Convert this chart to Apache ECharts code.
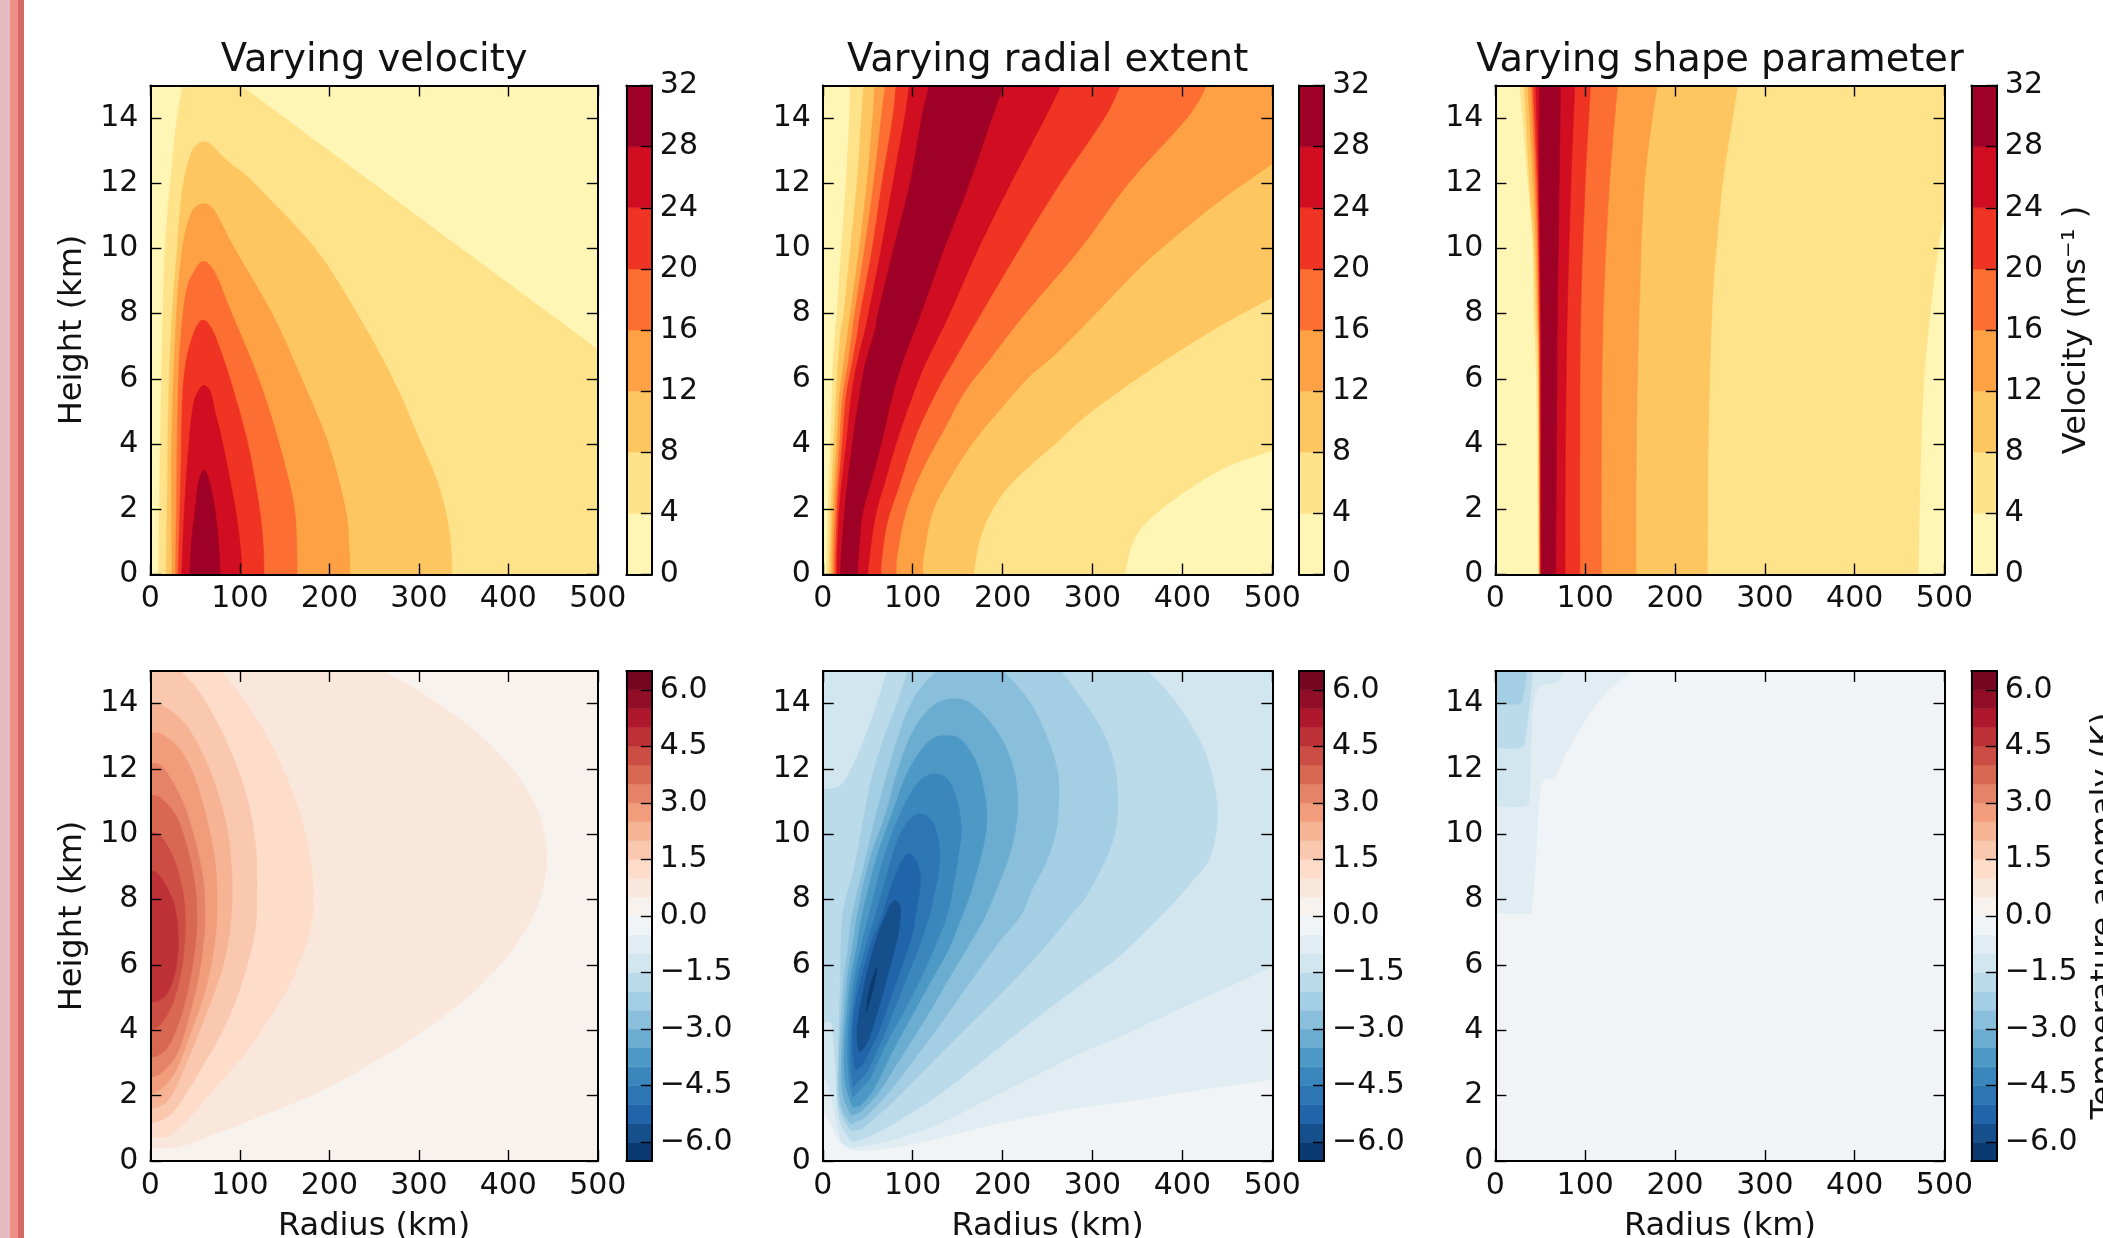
<!DOCTYPE html>
<html><head><meta charset="utf-8">
<style>html,body{margin:0;padding:0;background:#fff;overflow:hidden}#c{width:2103px;height:1238px;filter:blur(0.7px)}</style>
<script src="https://cdn.jsdelivr.net/npm/echarts@6/dist/echarts.min.js"></script>
</head><body><div id="c"></div>
<script>
// ---- tick labels and titles
const radiusTicks=[0,100,200,300,400,500];
const heightTicks=[0,2,4,6,8,10,12,14];
const velocityTicks=[0,4,8,12,16,20,24,28,32];
const temperatureTicks=[-6,-4.5,-3,-1.5,0,1.5,3,4.5,6];
const velocityLevels=[0,4,8,12,16,20,24,28,32];
const temperatureLevels=[-6.5,-6,-5.5,-5,-4.5,-4,-3.5,-3,-2.5,-2,-1.5,-1,-0.5,0,0.5,1,1.5,2,2.5,3,3.5,4,4.5,5,5.5,6,6.5];
const titles=['Varying velocity','Varying radial extent','Varying shape parameter'];

// ---- contour outlines: [radius km, height km]
// velocity, varying velocity (level = lower bound of the filled region)
const vv4=[[9,0],[11,4],[14,8],[17,10.3],[25,12.8],[30,14],[36,15],[36,15],[101,15],[101,15],[500,6.9],[500,6.9],[500,0],[500,0]];
const vv8=[[17.5,0],[19,3],[20.5,5.5],[24,7.9],[29,9.7],[34,11.4],[39,12.3],[46,12.95],[53,13.2],[60,13.27],[67,13.2],[78,12.9],[90,12.6],[116,12],[184,10],[231,8],[271,6],[303,4],[320,2.9],[331,1.8],[336,.8],[337,0]];
const vv12=[[24,0],[24,4.3],[29,7.9],[34,9.6],[39,10.5],[46,11.1],[53,11.32],[60,11.37],[67,11.3],[75,11],[94,10],[136,8],[169,6],[199,4],[218,2],[222,.9],[223,0]];
const vv16=[[28,0],[31,5.5],[35,7.6],[41,8.8],[49,9.3],[55,9.55],[60,9.6],[66,9.5],[75,9.1],[91,8],[121,6],[144,4],[161,2],[164,0]];
const vv20=[[31,0],[34,3.07],[36,5.5],[41,6.7],[49,7.45],[55,7.75],[60,7.8],[66,7.65],[74,7.2],[89,6],[109,4],[122,2],[126,.9],[127,0]];
const vv24=[[35,0],[38,2],[43,4],[48,5.2],[54,5.65],[60,5.8],[67,5.6],[73,4.9],[81,4],[95,2],[101,.7],[102,0]];
const vv28=[[44,0],[46,1],[50,2],[54,2.85],[60,3.2],[66,2.85],[72,2],[76,1],[78,0]];
// velocity, varying radial extent
const vr4=[[4,0],[5,.95],[6.5,2.38],[8.4,3.91],[10.2,5.44],[11.3,6.46],[13.9,7.48],[15.8,8],[20.6,10],[25.8,12],[29.5,14],[30.6,15],[30.6,15],[500,15],[500,15],[500,3.8],[500,3.8],[449,3.3],[405,2.58],[365,1.73],[345,1],[336,0]];
const vr8=[[7,0],[8,.95],[9.5,2.38],[12,3.91],[14.7,5.44],[16.9,6.46],[20,7.48],[23.2,8],[30.6,10],[38,12],[42.9,14],[45.5,15],[45.5,15],[500,15],[500,15],[500,8.5],[500,8.5],[434,7.5],[360,6.2],[295.7,4.93],[258.7,4.01],[229,3.3],[203,2.58],[184.5,1.77],[173.4,.95],[167.8,0]];
const vr12=[[9.9,0],[10.2,.95],[12,2.38],[15.4,3.91],[18.4,5.44],[23.2,6.46],[28,7.48],[30.6,8],[40.6,10],[49,12],[55.5,14],[57.7,15],[57.7,15],[500,15],[500,15],[500,12.6],[500,12.6],[434,11.3],[360,9.6],[307,8.1],[258.7,6.76],[229,6.05],[199.3,5.13],[166,4.01],[140,2.89],[121.5,1.87],[112.2,.54],[111.5,0]];
const vr16=[[12,0],[12.4,.95],[14.7,2.38],[18.4,3.91],[22.1,5.44],[28,6.46],[33,7.48],[35.4,8],[46.6,10],[56.6,12],[65,14],[69.6,15],[69.6,15],[427,15],[427,15],[405,14],[340,12],[286.5,10],[225,8],[184.5,6.56],[158.5,5.64],[136.3,4.52],[110.3,3.19],[91.8,1.87],[82.5,.54],[81.8,0]];
const vr20=[[14,0],[14.7,.95],[16.9,2.38],[21.3,3.91],[25.8,5.44],[32.5,6.46],[39,7.48],[41.7,8],[55,10],[65.8,12],[77.7,14],[81.4,15],[81.4,15],[331,15],[331,15],[313,14],[264,12],[219,10],[176,8],[143.7,6.46],[125.2,5.54],[102.9,4.21],[84.4,2.68],[71.4,1.56],[65,.34],[65,0]];
const vr24=[[15.8,0],[16.5,.95],[19.5,2.38],[25.8,3.91],[31.7,5.44],[38,6.46],[47,7.48],[51,8],[65,10],[78,12],[91,14],[96.2,15],[96.2,15],[265,15],[265,15],[247,14],[209,12],[173,10],[141,8],[114,6.46],[99.2,5.44],[82.5,4.11],[69.6,2.89],[58.4,1.77],[51,.34],[50.3,0]];
const vr28=[[19.5,0],[21.3,.95],[25.8,2.38],[32.5,3.91],[40.6,5.44],[47.3,6.46],[58,7.48],[61.4,8],[78.8,10],[97,12],[110,14],[118.5,15],[118.5,15],[201,15],[201,15],[188,14],[163,12],[135,10],[109,8],[88,6.46],[77,5.44],[64,3.91],[51,2.58],[43.6,1.77],[39,.34],[39,0]];
// velocity, varying shape parameter
const vs4=[[47.7,0],[46,5.5],[43,7.9],[41,10.3],[34,12.8],[27,15],[27,15],[500,15],[500,15],[500,11],[500,11],[493.5,10.1],[483.6,7.9],[476,5.5],[472,1.85],[471,0]];
const vs8=[[48.5,0],[47.5,6],[45,8],[43,10],[38,12],[32,15],[32,15],[270,15],[270,15],[264,14],[253,12],[246,10],[241,8],[237,4],[236,0]];
const vs12=[[49,0],[48.5,6],[47,8],[45,10],[42,12],[36,15],[36,15],[180,15],[180,15],[166,12],[160,8],[157,4],[156.5,0]];
const vs16=[[49.5,0],[49,6],[48,8],[47,10],[44.5,12],[40,15],[40,15],[136,15],[136,15],[127,12],[120,8],[118,4],[118,0]];
const vs20=[[50,0],[49.5,6],[49,8],[48,10],[46.5,12],[42,15],[42,15],[106,15],[106,15],[100,12],[95,8],[94,4],[94,0]];
const vs24=[[50.5,0],[50.5,6],[50,8],[49,10],[48,12],[45,15],[45,15],[88.5,15],[88.5,15],[84,12],[80,8],[78,4],[77.5,0]];
const vs28=[[51,0],[51,6],[50,10],[49,12],[49,15],[49,15],[72.5,15],[72.5,15],[71,12],[69,8],[68,4],[67,0]];
// temperature anomaly, varying velocity
const tv05=[[0,0.4],[31,.43],[66,.76],[111,1.24],[191,2.15],[266,3.3],[331,4.5],[381,5.7],[415,6.9],[435,8],[443,9.2],[437,10.4],[420,11.4],[395,12.3],[361,13.2],[311,14.2],[261,15],[261,15],[0,15],[0,15]];
const tv10=[[0,.72],[20,.78],[41,1.25],[71,2.2],[106,3.3],[136,4.5],[161,5.7],[179,7.16],[182,8.36],[174,9.93],[156,11.5],[131,12.95],[104,14.15],[79,15],[79,15],[0,15],[0,15]];
const tv15=[[0,1.15],[16,1.3],[31,1.7],[56,2.8],[81,4],[101,5.35],[116,6.9],[119,8.1],[117,9.8],[104,11.5],[81,13.07],[56,14.3],[34,15],[34,15],[0,15],[0,15]];
const tv20=[[0,1.57],[21,1.9],[41,3.05],[61,4.4],[81,5.95],[90,7.4],[91,8.85],[84,10.4],[66,12],[41,13.3],[16,13.9],[0,14]];
const tv25=[[0,2.03],[14,2.25],[29,2.8],[46,4],[62,5.3],[72,6.7],[74.5,8],[71,9.4],[56,11.2],[37,12.45],[14,13.05],[0,13.09]];
const tv30=[[0,2.57],[12,2.7],[30,3.3],[45,4.6],[55,5.8],[60,6.9],[61,7.6],[59,8.6],[50,9.8],[36,11],[14,12.05],[0,12.16]];
const tv35=[[0,3.17],[10,3.25],[22,3.6],[36,4.6],[46,5.8],[51,6.8],[52,7.5],[50,8.4],[43,9.4],[30,10.5],[12,11.1],[0,11.2]];
const tv40=[[0,4.02],[12,4.2],[26,4.9],[35,5.9],[38.5,6.8],[39,7.4],[36.5,8.2],[27,9.2],[13,9.9],[0,10.1]];
const tv45=[[0,4.86],[8,4.9],[18,5.1],[26,5.6],[30.5,6.3],[31,7],[27,7.8],[18,8.4],[8,8.8],[0,8.87]];
// temperature anomaly, varying radial extent (level = upper bound of the filled region)
const tr05=[[0,1.4],[2.8,1.39],[8.4,1.18],[15.8,.72],[26.9,.42],[43.6,.32],[80.7,.42],[132.6,.72],[184.5,1.08],[236.4,1.39],[288.3,1.64],[332.8,1.8],[400,2.1],[500,2.5],[500,2.5],[500,15],[500,15],[0,15],[0,15]];
const tr10=[[0,2.55],[2.8,2.51],[8.4,2.1],[13.9,1.39],[19.5,.67],[30.6,.42],[43.6,.47],[80.7,.67],[132.6,1.18],[184.5,1.9],[236.4,2.61],[288.3,3.33],[332.8,3.84],[400,4.7],[500,5.95],[500,5.95],[500,15],[500,15],[0,15],[0,15]];
const tr15=[[0,11.4],[12,11.4],[23.2,11.6],[34.3,12.16],[47.3,13],[60.3,14],[71.4,15],[71.4,15],[361,15],[361,15],[390,14.15],[420,12.83],[433,11.8],[439,10.8],[437,10],[429,9.2],[409,8.5],[385,7.76],[332.8,6.34],[288.3,5.42],[236.4,4.35],[184.5,3.22],[132.6,2.1],[80.7,1.18],[43.6,.67],[30.6,.67],[17.6,1.39],[13.9,2.92],[10.2,4.14],[2.8,4.24],[0,4.24]];
const tr20=[[30.6,.93],[17.6,1.69],[16.9,3.02],[19.5,5.47],[22,7.5],[34.3,8.88],[43.6,10.2],[54.7,11.75],[69.6,13.08],[82.5,14],[94.8,15],[94.8,15],[265,15],[265,15],[292,14],[314,13],[325.4,12],[328,11],[325.4,10.1],[314,9.2],[292,8.07],[275,7.5],[240,6.34],[199.3,5.16],[154.8,3.94],[110.3,2.71],[73.3,1.69],[43.6,.98]];
const tr25=[[30.6,1.13],[19.5,1.8],[18.4,3.22],[23.2,5.47],[28,6.49],[32.5,7.5],[47,9.2],[62.1,10.9],[77,12.37],[91.8,13.6],[106.6,14.4],[127,15],[127,15],[201,15],[201,15],[229,14.1],[247.5,13.1],[260.5,12],[262.4,11],[258.7,10],[247.5,9.1],[232.7,8.3],[219.7,7.5],[195.6,6.69],[166,5.57],[140,4.55],[110.3,3.43],[73.3,2.1],[45.5,1.29]];
const tr30=[[31.7,1.39],[22.1,2.1],[21.3,3.43],[26.9,5.47],[32.5,6.49],[38,7.5],[52,9.2],[69.6,10.6],[84.4,12.05],[99.2,13.1],[114,13.7],[128.9,14.05],[145.6,14.15],[162.3,14.05],[180.8,13.6],[199.3,12.9],[212.3,12],[216.8,11],[214,10.1],[206.8,9.3],[195.6,8.48],[180.8,7.5],[162.3,6.6],[140,5.57],[114,4.35],[88.1,3.22],[62.1,2.1],[41.7,1.49]];
const tr35=[[33.2,1.64],[25,2.41],[24.3,3.63],[30.6,5.47],[38,6.6],[43.6,7.5],[60,9.3],[77,10.63],[91.8,11.75],[106.6,12.47],[121.5,12.92],[136.3,13.02],[153,12.92],[167.8,12.36],[177,11.65],[182.6,10.63],[179,9.7],[171.5,8.88],[164,8.17],[154.8,7.5],[140,6.49],[121.5,5.57],[99.2,4.45],[77,3.33],[56.6,2.2],[41.7,1.69]];
const tr40=[[33.2,1.95],[28.8,2.61],[28,3.84],[34.3,5.47],[43.6,6.69],[51,7.5],[68,9.3],[84.4,10.52],[97.4,11.24],[110.3,11.7],[125.2,11.85],[140,11.65],[149.3,11.03],[154.1,10.22],[151.1,9.4],[145.6,8.48],[138,7.5],[125.2,6.6],[110.3,5.67],[91.8,4.65],[71.4,3.63],[52.9,2.51]];
const tr45=[[33.6,2.26],[30.6,3.02],[31.7,4.14],[38,5.47],[49.2,6.69],[58.4,7.5],[71.4,8.78],[84.4,9.9],[97.4,10.47],[110.3,10.63],[123.3,10.32],[129.6,9.6],[128.9,8.88],[123.3,8.07],[118.5,7.5],[110.3,6.8],[97.4,5.88],[82.5,4.86],[67.7,3.84],[49.2,2.71]];
const tr50=[[36.2,2.77],[33.2,3.43],[34.3,4.45],[41.7,5.47],[52.9,6.6],[65.8,7.5],[77,8.48],[88.1,9.2],[97.4,9.4],[106.6,8.99],[108.5,8.48],[103,7.5],[99.2,6.9],[88.1,5.98],[75.1,4.96],[60.3,3.84],[43.6,2.92]];
const tr55=[[39.9,3.35],[38,3.84],[39.9,4.45],[45.5,5.27],[52.9,6.18],[62.1,7],[69.6,7.5],[75.1,7.85],[81.4,7.97],[86.2,7.77],[86.2,7.5],[83.6,6.9],[75.1,5.98],[64,4.86],[51,3.73],[42.9,3.38]];
const tr60=[[48.4,4.55],[49.2,4.86],[52.9,5.37],[57.7,5.78],[60.3,5.93],[58.4,5.57],[52.9,4.96]];
// temperature anomaly, varying shape parameter
const ts05=[[0,7.58],[36,7.58],[41,7.82],[45,9.33],[49,11.14],[55,11.68],[66,11.77],[78.5,12.47],[96,13.31],[121,14.28],[151,15],[151,15],[0,15],[0,15]];
const ts10=[[0,10.87],[33,10.87],[38,11.3],[40,13],[42,14],[48,14.5],[60,14.6],[70,14.7],[76,15],[76,15],[0,15],[0,15]];
const ts15=[[0,12.65],[28,12.65],[33,12.9],[36,13.5],[40,14.5],[41,15],[41,15],[0,15],[0,15]];
const ts20=[[0,14],[26,14],[31,14.3],[35,15],[35,15],[0,15],[0,15]];

// ---- colour maps
const YlOrRd=['#ffffcc','#ffeda0','#fed976','#feb24c','#fd8d3c','#fc4e2a','#e31a1c','#bd0026','#800026'];
const RdBu_r=['#053061','#2166ac','#4393c3','#92c5de','#d1e5f0','#f7f7f7','#fddbc7','#f4a582','#d6604d','#b2182b','#67001f'];
function cmap(m,t){const p=Math.min(.9999,Math.max(0,t))*(m.length-1),i=Math.floor(p),f=p-i;
  const a=m[i],b=m[i+1],c=k=>Math.round(parseInt(a.substr(k,2),16)*(1-f)+parseInt(b.substr(k,2),16)*f);
  return `rgb(${c(1)},${c(3)},${c(5)})`;}
const velColor=mid=>cmap(YlOrRd,mid/32);
const tmpColor=mid=>cmap(RdBu_r,(mid+6.5)/13);

// ---- layout
const px=[[150.4,597.8],[822.8,1272.3],[1495.4,1944.5]];
const cb=[[626.3,651.8],[1299,1324],[1971.3,1996.8]];
const py=[[85.5,574.5],[671,1161]];
const W=2103,H=1238,FONT='DejaVu Sans',FS=30,NS=32,INK='#111';

const panels=[
 {c:0,r:0,base:2,color:velColor,regions:[[vv4,6],[vv8,10],[vv12,14],[vv16,18],[vv20,22],[vv24,26],[vv28,30]]},
 {c:1,r:0,base:2,color:velColor,regions:[[vr4,6],[vr8,10],[vr12,14],[vr16,18],[vr20,22],[vr24,26],[vr28,30]]},
 {c:2,r:0,base:2,color:velColor,regions:[[vs4,6],[vs8,10],[vs12,14],[vs16,18],[vs20,22],[vs24,26],[vs28,30]]},
 {c:0,r:1,base:.25,color:tmpColor,regions:[[tv05,.75],[tv10,1.25],[tv15,1.75],[tv20,2.25],[tv25,2.75],[tv30,3.25],[tv35,3.75],[tv40,4.25],[tv45,4.75]]},
 {c:1,r:1,base:-.25,color:tmpColor,regions:[[tr05,-.75],[tr10,-1.25],[tr15,-1.75],[tr20,-2.25],[tr25,-2.75],[tr30,-3.25],[tr35,-3.75],[tr40,-4.25],[tr45,-4.75],[tr50,-5.25],[tr55,-5.75],[tr60,-6.25]]},
 {c:2,r:1,base:-.25,color:tmpColor,regions:[[ts05,-.75],[ts10,-1.25],[ts15,-1.75],[ts20,-2.25]]}
];

function smooth(pts){ // Catmull-Rom through the outline, repeated points give sharp corners
  const out=[];const n=pts.length;
  for(let i=0;i<n-1;i++){
    const p1=pts[i],p2=pts[i+1];
    if(p1[0]===p2[0]&&p1[1]===p2[1]){continue;}
    const p0=pts[Math.max(0,i-1)],p3=pts[Math.min(n-1,i+2)];
    for(let k=0;k<12;k++){const t=k/12,t2=t*t,t3=t2*t;
      out.push([0,1].map(d=>.5*(2*p1[d]+(p2[d]-p0[d])*t+(2*p0[d]-5*p1[d]+4*p2[d]-p3[d])*t2+(3*p1[d]-p0[d]-3*p2[d]+p3[d])*t3)));}
  }
  out.push(pts[n-1]);return out;
}
const axisLine={show:true,onZero:false,lineStyle:{color:'#000',width:2}};
const grid=[],xAxis=[],yAxis=[],series=[];
function frame(g,opts){
  const gi=grid.length;grid.push(Object.assign({outerBoundsMode:'none'},g));
  const xi=xAxis.length,yi=yAxis.length;
  xAxis.push(Object.assign({gridIndex:gi,type:'value',position:'bottom',z:5,splitLine:{show:false},axisLine},opts.x),
             Object.assign({gridIndex:gi,type:'value',position:'top',z:5,splitLine:{show:false},axisLine,axisLabel:{show:false}},opts.xTop));
  yAxis.push(Object.assign({gridIndex:gi,type:'value',position:'left',z:5,splitLine:{show:false},axisLine},opts.y),
             Object.assign({gridIndex:gi,type:'value',position:'right',z:5,splitLine:{show:false},axisLine},opts.yRight));
  return {xi,yi};
}
const label=(extra)=>Object.assign({color:INK,fontFamily:FONT,fontSize:FS},extra);
const tick=vals=>({show:true,inside:true,length:11,customValues:vals,lineStyle:{color:'#000',width:1.4}});

panels.forEach(p=>{
  const [x0,x1]=px[p.c],[y0,y1]=py[p.r];
  const showName=p.c===0;
  const xCommon={min:0,max:500};const yCommon={min:0,max:15};
  const f=frame({left:x0,width:x1-x0,top:y0,height:y1-y0,show:true,backgroundColor:p.color(p.base),borderWidth:0},{
    x:Object.assign({},xCommon,{axisTick:tick(radiusTicks),
      axisLabel:label({customValues:radiusTicks,margin:10,showMinLabel:true,showMaxLabel:true}),
      name:p.r===1?'Radius (km)':'',nameLocation:'middle',nameGap:50,nameTextStyle:{color:INK,fontFamily:FONT,fontSize:NS}}),
    xTop:Object.assign({},xCommon,{axisTick:tick(radiusTicks)}),
    y:Object.assign({},yCommon,{axisTick:tick(heightTicks),
      axisLabel:label({customValues:heightTicks,margin:12,padding:[0,0,8,0],showMinLabel:true}),
      name:showName?'Height (km)':'',nameLocation:'middle',nameGap:62,nameRotate:90,nameTextStyle:{color:INK,fontFamily:FONT,fontSize:NS}}),
    yRight:Object.assign({},yCommon,{axisTick:tick(heightTicks),axisLabel:{show:false}})
  });
  p.regions.forEach(([pts,mid])=>{
    const col=p.color(mid);
    series.push({type:'custom',coordinateSystem:'cartesian2d',xAxisIndex:f.xi,yAxisIndex:f.yi,z:1,clip:true,silent:true,animation:false,
      data:pts,encode:{x:0,y:1},
      renderItem(params,api){
        if(params.dataIndex!==0)return null;
        const screen=pts.map(d=>api.coord(d));
        return {type:'polygon',shape:{points:smooth(screen)},style:{fill:col,stroke:col,lineWidth:.5}};
      }});
  });
  // colour bar
  const [bx0,bx1]=cb[p.c];
  const isVel=p.r===0;
  const ticks=isVel?velocityTicks:temperatureTicks;
  const levels=isVel?velocityLevels:temperatureLevels;
  const yr={min:levels[0],max:levels[levels.length-1]};
  const xr={min:0,max:1};
  const right=p.c===2;
  const fb=frame({left:bx0,width:bx1-bx0,top:y0,height:y1-y0,show:false},{
    x:Object.assign({},xr,{axisTick:{show:false},axisLabel:{show:false}}),
    xTop:Object.assign({},xr,{axisTick:{show:false}}),
    y:Object.assign({},yr,{axisTick:{show:false},axisLabel:{show:false}}),
    yRight:Object.assign({},yr,{axisTick:tick(ticks),
      axisLabel:label({customValues:ticks,margin:8,padding:[0,0,8,0],
        formatter:v=>isVel?String(v):(v<0?'\u2212':'')+Math.abs(v).toFixed(1)}),
      name:right?(isVel?'Velocity (ms\u207B\u00B9 )':'Temperature anomaly (K)'):'',
      nameLocation:'middle',nameRotate:90,nameGap:isVel?64:92,
      nameTextStyle:{color:INK,fontFamily:FONT,fontSize:NS}})
  });
  const cells=levels.slice(0,-1).map((lo,i)=>[lo,levels[i+1]]);
  series.push({type:'custom',coordinateSystem:'cartesian2d',xAxisIndex:fb.xi,yAxisIndex:fb.yi,z:1,silent:true,animation:false,
    data:cells,encode:{y:[0,1]},
    renderItem(params,api){
      const lo=api.value(0),hi=api.value(1);
      const a=api.coord([0,lo]),b=api.coord([1,hi]);
      const col=p.color((lo+hi)/2);
      return {type:'rect',shape:{x:a[0],y:b[1],width:b[0]-a[0],height:a[1]-b[1]},style:{fill:col,stroke:col,lineWidth:.5}};
    }});
});

const title=titles.map((t,i)=>({text:t,left:(px[i][0]+px[i][1])/2,top:42,padding:0,textAlign:'center',
  textStyle:{color:INK,fontFamily:FONT,fontSize:38.4,fontWeight:'normal'}}));

const chart=echarts.init(document.getElementById('c'),null,{width:W,height:H});
chart.setOption({animation:false,backgroundColor:'#fff',title,grid,xAxis,yAxis,series,
  graphic:[
    {type:'rect',z:0,silent:true,shape:{x:0,y:0,width:10,height:H},style:{fill:'#e4bcc0'}},
    {type:'rect',z:0,silent:true,shape:{x:10,y:0,width:8,height:H},style:{fill:'#ee9088'}},
    {type:'rect',z:0,silent:true,shape:{x:18,y:0,width:6,height:H},style:{fill:'#d26a68'}}
  ]});
</script></body></html>
